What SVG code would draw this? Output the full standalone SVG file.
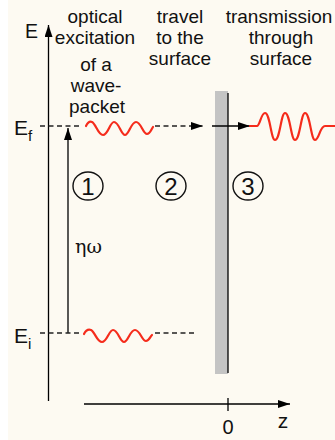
<svg xmlns="http://www.w3.org/2000/svg" width="335" height="440" viewBox="0 0 335 440">
<style>
text{font-family:"Liberation Sans",Arial,sans-serif;fill:#111}
.lbl{font-size:19px;text-anchor:middle}
.ax{stroke:#000;stroke-width:1.3;fill:none}
.dash{stroke:#222;stroke-width:1.3;stroke-dasharray:5 3.5;fill:none}
.wave{stroke:#f52c1c;stroke-width:2.2;fill:none;stroke-linecap:round}
.num{font-size:24px;text-anchor:middle}
.circ{fill:none;stroke:#111;stroke-width:1.4}
</style>
<defs>
<marker id="ah" viewBox="0 0 12 8" refX="12" refY="4" markerWidth="12" markerHeight="8" markerUnits="userSpaceOnUse" orient="auto">
<path d="M0,0 L12,4 L0,8 z" fill="#000"/>
</marker>
</defs>
<rect width="335" height="440" fill="#fdfaf2"/>
<rect width="8" height="440" fill="#ffffff"/>

<g id="surface">
<rect x="215" y="91" width="13" height="283" fill="#c4c4c4"/>
<line x1="228" y1="93" x2="228" y2="373" class="ax"/>
</g>

<g id="connectors">
<line x1="48.5" y1="401" x2="48.5" y2="25" class="ax" marker-end="url(#ah)"/>
<line x1="84" y1="404" x2="290" y2="404" class="ax" marker-end="url(#ah)"/>
<line x1="228" y1="398" x2="228" y2="411" class="ax"/>
<line x1="68" y1="333" x2="68" y2="128" class="ax" marker-end="url(#ah)"/>
<line x1="40" y1="126" x2="82" y2="126" class="dash"/>
<line x1="155" y1="126" x2="203" y2="126" class="dash" marker-end="url(#ah)"/>
<line x1="212" y1="126" x2="250" y2="126" class="ax" marker-end="url(#ah)"/>
<line x1="40" y1="333" x2="82" y2="333" class="dash"/>
<line x1="155" y1="333" x2="197" y2="333" class="dash"/>
</g>

<g id="waves">
<path class="wave" d="M86,126 C88,122 90,121 92,122 C96,124 98,135 103,135 C108,135 110,122 114,122 C119,122 121,135 125,135 C129,135 131,122 136,122 C141,122 143,134 147,134 C150,134 151,130 153,127"/>
<path class="wave" d="M84,334 C86,330 88,329 91,330 C95,332 97,342 102,342 C107,342 109,330 113,330 C118,330 120,342 124,342 C128,342 130,330 135,330 C140,330 142,341 146,341 C149,341 150,337 152,335"/>
<path class="wave" d="M250,126 L257,126 C260,126 261,113 265,113 C270,113 271,140 275,140 C280,140 281,113 285,113 C290,113 291,140 295,140 C300,140 301,113 305,113 C310,113 311,140 315,140 C319,140 320,126 325,126 L335,126"/>
</g>

<g id="labels">
<text x="31.5" y="38" style="font-size:19.5px;text-anchor:middle">E</text>
<text x="14" y="135" style="font-size:21px">E<tspan dy="6" style="font-size:15px">f</tspan></text>
<text x="14" y="343" style="font-size:21px">E<tspan dy="6" style="font-size:15px">i</tspan></text>
<text x="228" y="434" style="font-size:20px;text-anchor:middle">0</text>
<text x="283" y="428" style="font-size:21px;text-anchor:middle">z</text>
<text x="75" y="253" style="font-family:'DejaVu Serif','Liberation Serif',serif;font-size:19px">ηω</text>
</g>

<g id="step1">
<text class="lbl" x="95" y="23">optical</text>
<text class="lbl" x="95" y="44">excitation</text>
<text class="lbl" x="96" y="71">of a</text>
<text class="lbl" x="96" y="92">wave-</text>
<text class="lbl" x="97" y="113">packet</text>
<ellipse class="circ" cx="88" cy="186" rx="15" ry="14"/>
<text class="num" x="88" y="194.5">1</text>
</g>
<g id="step2">
<text class="lbl" x="180" y="23">travel</text>
<text class="lbl" x="180" y="44">to the</text>
<text class="lbl" x="180" y="65">surface</text>
<ellipse class="circ" cx="171" cy="186" rx="15" ry="14"/>
<text class="num" x="171" y="194.5">2</text>
</g>
<g id="step3">
<text class="lbl" x="279" y="23">transmission</text>
<text class="lbl" x="281" y="44">through</text>
<text class="lbl" x="281" y="65">surface</text>
<ellipse class="circ" cx="248" cy="186" rx="15" ry="14"/>
<text class="num" x="248" y="194.5">3</text>
</g>
</svg>
